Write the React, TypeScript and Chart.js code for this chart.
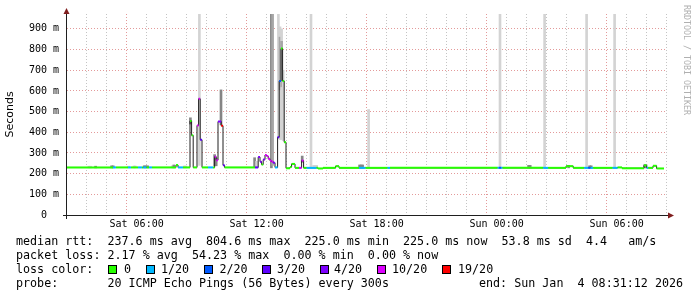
import React, { useEffect, useRef } from 'react';
import { Chart, registerables } from 'chart.js';

Chart.register(...registerables);

// x values are hours since Sat 00:00; window Sat 02:31:12 .. Sun 08:31:12
const X_MIN = 2.52;
const X_MAX = 32.52;
const Y_MAX = 972;

const LOSS_LABELS = ['0', '1/20', '2/20', '3/20', '4/20', '10/20', '19/20'];
const LOSS_COLORS = ['#26ff00', '#00b8ff', '#0059ff', '#5e00ff', '#7e00ff', '#dd00ff', '#ff0000'];

const TIME_TICKS = [3, 4, 5, 6, 7, 8, 9, 10, 11, 12, 13, 14, 15, 16, 17, 18, 19, 20, 21, 22, 23, 24, 25, 26, 27, 28, 29, 30, 31, 32];
const TIME_LABELS: Record<number, string> = {
  6: 'Sat 06:00',
  12: 'Sat 12:00',
  18: 'Sat 18:00',
  24: 'Sun 00:00',
  30: 'Sun 06:00',
};
const Y_TICKS = [0, 50, 100, 150, 200, 250, 300, 350, 400, 450, 500, 550, 600, 650, 700, 750, 800, 850, 900, 950];

// median rtt runs (start hour, value in ms, loss class index)
const medianHours = [
  2.52, 4.82, 4.97, 5.57, 5.72, 6.07, 6.27, 6.33, 6.5, 6.62, 6.77, 7.97, 8.07, 8.32,
  8.67, 8.75, 8.83, 9.02, 9.1, 9.18, 9.27, 9.57, 9.82, 9.9, 9.98, 10.07, 10.23, 10.32, 10.4,
  11.92, 12.08, 12.17, 12.25, 12.33, 12.42, 12.5, 12.58, 12.67, 12.75, 12.83, 12.92,
  13.05, 13.13, 13.22, 13.3, 13.38, 13.47, 13.67, 13.75, 13.92, 14.12, 14.25, 14.35, 14.5,
  15.0, 15.07, 15.32, 15.95, 16.12, 17.12, 17.45, 18.55, 18.67, 24.05, 24.12, 24.22, 24.3,
  26.33, 26.58, 27.47, 27.83, 28.38, 28.58, 28.7, 28.83, 29.8, 30.05, 30.27, 31.37, 31.5, 31.58,
  31.82, 32.0, 32.37,
];
const medianMs = [
  230, 230, 230, 230, 230, 230, 230, 230, 230, 230, 230, 242, 230, 230,
  455, 385, 230, 433, 562, 364, 230, 230, 230, 282, 265, 452, 432, 240, 230,
  230, 280, 258, 244, 268, 290, 285, 272, 262, 258, 253, 230,
  376, 648, 805, 648, 352, 226, 232, 247, 228, 228, 263, 228, 228,
  228, 225, 228, 236, 228, 228, 228, 228, 228, 228, 228, 228, 228,
  228, 228, 236, 228, 228, 228, 228, 228, 228, 230, 226, 240, 228, 228,
  238, 225, 225,
];
const medianLoss = [
  0, 1, 0, 1, 0, 1, 0, 1, 0, 1, 0, 0, 1, 0,
  0, 0, 0, 5, 5, 3, 0, 1, 0, 5, 5, 4, 6, 3, 0,
  3, 4, 4, 0, 4, 5, 5, 5, 5, 5, 4, 1,
  3, 2, 0, 0, 0, 0, 0, 0, 0, 5, 5, 0, 1,
  0, 0, 0, 0, 0, 1, 0, 1, 0, 1, 2, 1, 0,
  1, 0, 0, 0, 1, 2, 1, 0, 1, 0, 0, 0, 1, 0,
  0, 0, 0,
];

// smoke samples (hour, low ms, high ms, shade 0 light / 1 mid / 2 dark)
const smokeHours = [
  3.62, 3.7, 3.95, 4.75, 4.83, 5.6, 5.87, 5.93, 6.38, 6.46, 6.55, 7.78, 7.86, 8.38, 8.46,
  8.69, 9.14, 9.9, 9.98, 10.22, 11.9, 12.0, 12.74, 12.8, 13.09, 13.17, 13.17, 13.25, 13.25, 13.33,
  14.28, 14.72, 14.85, 14.93, 15.0, 17.15, 17.23, 17.3, 17.6, 24.17, 25.6, 25.68, 26.4, 27.6,
  28.5, 28.65, 28.73, 29.9, 31.4, 31.47,
];
const smokeLo = [
  228, 228, 228, 228, 228, 228, 228, 228, 228, 228, 228, 228, 228, 228, 228,
  440, 240, 238, 238, 436, 230, 228, 228, 240, 370, 365, 605, 365, 620, 360,
  255, 232, 228, 228, 228, 228, 228, 228, 232, 230, 228, 228, 230, 228,
  230, 228, 228, 230, 228, 228,
];
const smokeHi = [
  236, 236, 236, 238, 238, 236, 237, 237, 238, 238, 238, 238, 242, 237, 237,
  470, 972, 292, 276, 605, 277, 260, 972, 972, 972, 910, 860, 900, 840, 700,
  285, 972, 240, 240, 240, 242, 242, 242, 510, 972, 240, 240, 972, 240,
  972, 238, 238, 972, 243, 243,
];
const smokeShade = [
  0, 0, 2, 2, 2, 0, 0, 0, 2, 2, 2, 0, 2, 0, 0,
  2, 0, 2, 2, 2, 2, 0, 2, 1, 0, 0, 1, 0, 1, 0,
  2, 0, 0, 0, 0, 2, 2, 2, 0, 0, 2, 2, 0, 2,
  0, 2, 2, 0, 2, 2,
];
const SMOKE_COLORS = ['#d3d3d3', '#a6a6a6', '#858585'];

const statsLines = [
  'median rtt:  237.6 ms avg  804.6 ms max  225.0 ms min  225.0 ms now  53.8 ms sd  4.4   am/s',
  'packet loss: 2.17 % avg  54.23 % max  0.00 % min  0.00 % now',
];
const lossTitle = 'loss color:';
const probeText = 'probe:       20 ICMP Echo Pings (56 Bytes) every 300s';
const endText = 'end: Sun Jan  4 08:31:12 2026';
const watermark = 'RRDTOOL / TOBI OETIKER';

const GRID = '#c4c4c4';
const MGRID = '#e39a9a';
const AXIS = '#1f1f1f';
const ARROW = '#801f1f';
const MONO = "'DejaVu Sans Mono', monospace";

const ROW_TOP = [234, 248, 262, 276];
const SQ_X = [108, 146, 204, 262, 320, 377, 442];
const TXT_X = [124, 161, 219.5, 277, 334, 392, 458];

const decorPlugin = {
  id: 'decor',
  afterDraw(chart: any) {
    const { ctx, chartArea: a } = chart;
    ctx.save();
    ctx.strokeStyle = AXIS;
    ctx.lineWidth = 1;
    ctx.beginPath();
    ctx.moveTo(a.left - 4, a.bottom + 0.5);
    ctx.lineTo(a.right + 2, a.bottom + 0.5);
    ctx.moveTo(a.left - 0.5, a.bottom + 4);
    ctx.lineTo(a.left - 0.5, a.top - 1);
    ctx.stroke();
    ctx.fillStyle = ARROW;
    ctx.beginPath();
    ctx.moveTo(a.left - 0.5, a.top - 6);
    ctx.lineTo(a.left - 3.5, a.top);
    ctx.lineTo(a.left + 2.5, a.top);
    ctx.closePath();
    ctx.fill();
    ctx.beginPath();
    ctx.moveTo(a.right + 7, a.bottom + 0.5);
    ctx.lineTo(a.right + 1, a.bottom - 2.5);
    ctx.lineTo(a.right + 1, a.bottom + 3.5);
    ctx.closePath();
    ctx.fill();
    ctx.translate(686, 5);
    ctx.rotate(Math.PI / 2);
    ctx.font = "8.3px 'DejaVu Sans Mono'";
    ctx.fillStyle = '#b0b0b0';
    ctx.textBaseline = 'middle';
    ctx.textAlign = 'left';
    ctx.fillText(watermark, 0, 0);
    ctx.restore();
  },
};

export default function App() {
  const ref = useRef<HTMLCanvasElement>(null);

  useEffect(() => {
    document.body.style.margin = '0';
    const canvas = ref.current;
    if (!canvas) return;
    const medianPts = medianHours.map((h, i) => ({ x: h, y: medianMs[i] }));
    const runPts: any[] = [];
    for (let i = 0; i < medianHours.length - 1; i++) {
      runPts.push({ x: medianHours[i], y: medianMs[i] });
      runPts.push({ x: medianHours[i + 1], y: medianMs[i] });
      runPts.push({ x: medianHours[i + 1], y: null });
    }
    const smokePts = smokeHours.map((h, i) => ({ x: h, y: [smokeLo[i], smokeHi[i]] }));

    const chart = new Chart(canvas, {
      type: 'line',
      data: {
        datasets: [
          {
            type: 'bar',
            data: smokePts as any,
            backgroundColor: smokeShade.map((s) => SMOKE_COLORS[s]),
            barThickness: 2,
            borderWidth: 0,
            order: 4,
          } as any,
          {
            type: 'line',
            data: medianPts,
            stepped: true,
            borderColor: '#202020',
            borderWidth: 1,
            pointRadius: 0,
            order: 3,
          },
          {
            type: 'line',
            data: runPts,
            borderColor: LOSS_COLORS[0],
            borderWidth: 2,
            borderCapStyle: 'butt',
            pointRadius: 0,
            spanGaps: false,
            segment: {
              borderColor: (c: any) => LOSS_COLORS[medianLoss[Math.floor(c.p0DataIndex / 3)]],
            },
            order: 2,
          },
        ],
      },
      options: {
        responsive: false,
        animation: false,
        devicePixelRatio: 1,
        layout: { padding: { left: 0, right: 30, top: 14, bottom: 0 } },
        plugins: { legend: { display: false }, tooltip: { enabled: false } },
        scales: {
          x: {
            type: 'linear',
            min: X_MIN,
            max: X_MAX,
            offset: false,
            afterBuildTicks: (s: any) => {
              s.ticks = TIME_TICKS.map((v) => ({ value: v }));
            },
            afterFit: (s: any) => {
              s.height = 82;
            },
            ticks: {
              autoSkip: false,
              maxRotation: 0,
              padding: 3,
              color: '#000',
              font: { family: 'DejaVu Sans Mono', size: 10 },
              callback: (v: any) => TIME_LABELS[v as number] ?? '',
            },
            grid: {
              drawTicks: false,
              lineWidth: 1,
              color: (c: any) => (c.tick && c.tick.value % 6 === 0 ? MGRID : GRID),
            },
            border: { display: false, dash: [1, 2] },
          },
          y: {
            type: 'linear',
            min: 0,
            max: Y_MAX,
            afterBuildTicks: (s: any) => {
              s.ticks = Y_TICKS.map((v) => ({ value: v }));
            },
            afterFit: (s: any) => {
              s.width = 67;
            },
            ticks: {
              padding: 8,
              color: '#000',
              font: { family: 'DejaVu Sans Mono', size: 10 },
              callback: (v: any) => (v === 0 ? '0  ' : v % 100 === 0 ? `${v} m` : ''),
            },
            title: {
              display: true,
              text: 'Seconds',
              color: '#000',
              font: { family: 'DejaVu Sans', size: 11 },
              padding: { top: 4, bottom: 0 },
            },
            grid: {
              drawTicks: false,
              lineWidth: 1,
              color: (c: any) => (c.tick && c.tick.value % 100 === 0 ? MGRID : GRID),
            },
            border: { display: false, dash: [1, 2] },
          },
        },
      } as any,
      plugins: [decorPlugin],
    });
    return () => chart.destroy();
  }, []);

  const row: React.CSSProperties = {
    position: 'absolute',
    left: 16,
    fontFamily: MONO,
    fontSize: '11.7px',
    lineHeight: '14px',
    whiteSpace: 'pre',
    color: '#000',
  };

  return (
    <div style={{ position: 'fixed', left: 0, top: 0, width: 697, height: 297, background: '#fff', overflow: 'hidden' }}>
      <canvas ref={ref} width={697} height={297} style={{ position: 'absolute', left: 0, top: 0, width: 697, height: 297 }} />
      {statsLines.map((t, i) => (
        <div key={i} style={{ ...row, top: ROW_TOP[i] }}>{t}</div>
      ))}
      <div style={{ ...row, top: ROW_TOP[2] }}>{lossTitle}</div>
      {LOSS_LABELS.map((l, i) => (
        <React.Fragment key={l}>
          <div
            style={{
              position: 'absolute',
              left: SQ_X[i],
              top: ROW_TOP[2] + 3,
              width: 9,
              height: 9,
              boxSizing: 'border-box',
              border: '1px solid #000',
              background: LOSS_COLORS[i],
            }}
          />
          <div style={{ ...row, left: TXT_X[i], top: ROW_TOP[2] }}>{l}</div>
        </React.Fragment>
      ))}
      <div style={{ ...row, top: ROW_TOP[3] }}>{probeText}</div>
      <div style={{ ...row, left: 479, top: ROW_TOP[3] }}>{endText}</div>
    </div>
  );
}
